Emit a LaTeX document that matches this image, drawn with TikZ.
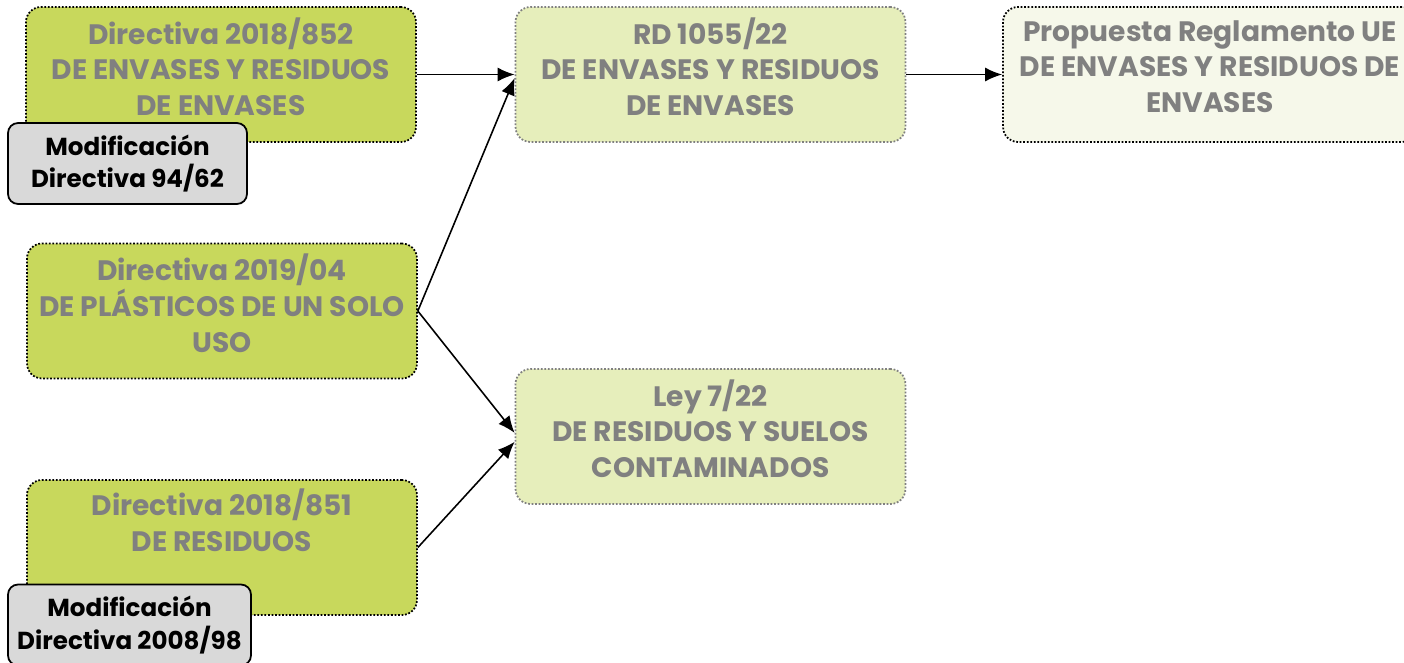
\documentclass[tikz,border=0pt]{standalone}
\usepackage{fontspec}
\setmainfont{Poppins}
\usepackage{tikz}
\usetikzlibrary{arrows.meta, positioning}

\definecolor{verdeN}{HTML}{C8D85C}
\definecolor{verdeC}{HTML}{E6EEBB}
\definecolor{verdeP}{HTML}{F6F8EA}
\definecolor{textoG}{HTML}{808080}

\begin{document}
\begin{tikzpicture}[x=0.02cm, y=-0.02cm,
        norma/.style={draw=black, line width=1pt, dash pattern=on 1pt off 1pt,
            rounded corners=0.3cm, fill=verdeN, minimum width=7.8cm, minimum height=2.7cm},
        nueva/.style={norma, fill=verdeC, draw=gray},
        rotulo/.style={align=center, text=textoG, yshift=4.5pt,
            font=\fontsize{16}{20.4}\selectfont\bfseries},
        modif/.style={draw=black, line width=1pt, rounded corners=0.2cm, fill=gray!30,
            minimum height=1.62cm, align=center, text=black,
            font=\fontsize{14}{18.7}\selectfont\bfseries},
        flecha/.style={line width=0.9pt, -{Latex[length=3.4mm, width=2.8mm]}}]
        \useasboundingbox (0,0) rectangle (1404,663);
        % normas europeas
        \node[norma, label={[rotulo]center:{Directiva 2018/852\\DE ENVASES Y RESIDUOS\\DE ENVASES}}] (dir852) at (221,74.5) {};
        \node[norma, label={[rotulo]center:{Directiva 2019/04\\DE PLÁSTICOS DE UN SOLO\\USO}}] (dir04) at (222,311) {};
        \node[norma, label={[rotulo, yshift=11pt]center:{Directiva 2018/851\\DE RESIDUOS}}] (dir851) at (222,547.5) {};
        \node[modif, minimum width=4.78cm] (mod94) at (127.5,163.5) {Modificación\\Directiva 94/62};
        \node[modif, minimum width=4.86cm] (mod08) at (129.5,625) {Modificación\\Directiva 2008/98};
        % normas espanolas
        \node[nueva, label={[rotulo]center:{RD 1055/22\\DE ENVASES Y RESIDUOS\\DE ENVASES}}] (rd) at (710.5,74.5) {};
        \node[nueva, label={[rotulo]center:{Ley 7/22\\DE RESIDUOS Y SUELOS\\CONTAMINADOS}}] (ley) at (710.5,436.5) {};
        \node[norma, fill=verdeP, minimum width=8.28cm, label={[rotulo]center:{Propuesta Reglamento UE\\DE ENVASES Y RESIDUOS DE\\ENVASES}}] (prop) at (1210,74.5) {};
        % flechas
        \draw[flecha] (dir852.east) -- (rd.west);
        \draw[flecha] (dir04.east) -- ([yshift=-2pt]rd.west);
        \draw[flecha] (dir04.east) -- ([yshift=2pt]ley.west);
        \draw[flecha] (dir851.east) -- ([yshift=-3pt]ley.west);
        \draw[flecha] (rd.east) -- (prop.west);
\end{tikzpicture}
\end{document}
